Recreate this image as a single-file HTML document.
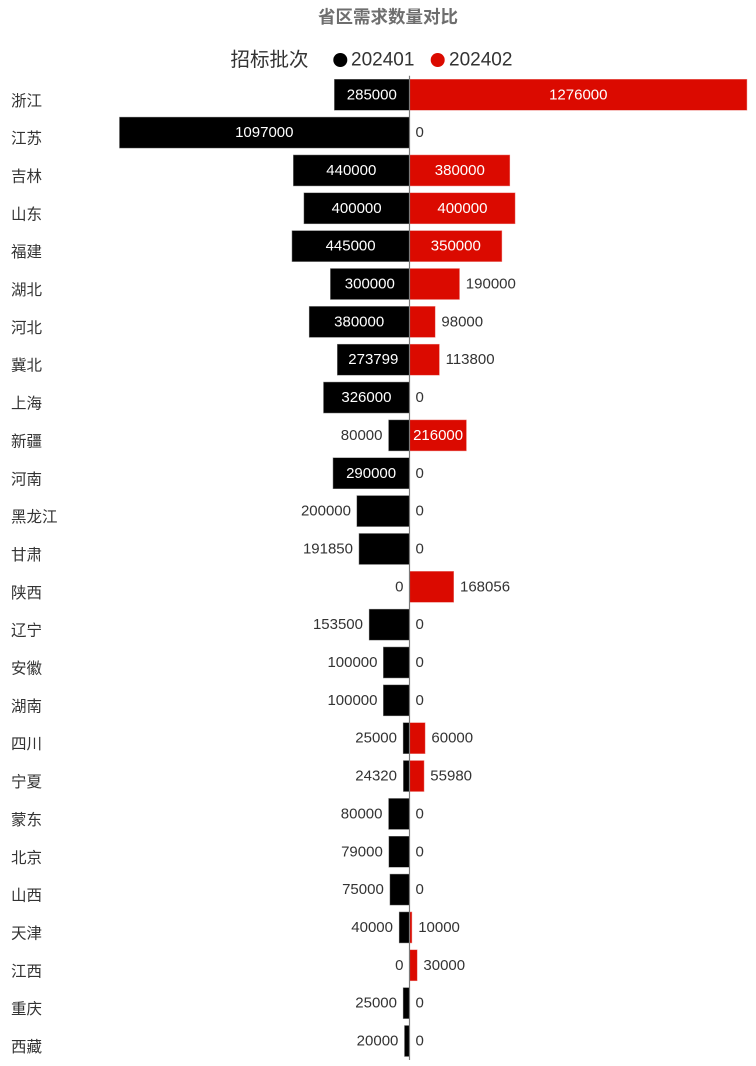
<!DOCTYPE html>
<html>
<head>
<meta charset="utf-8">
<style>
html,body{margin:0;padding:0;background:#fff;}
svg{display:block;}
text{font-family:"Liberation Sans","Noto Sans CJK SC",sans-serif;}
</style>
</head>
<body>
<svg width="756" height="1066" viewBox="0 0 756 1066" xmlns="http://www.w3.org/2000/svg">
<rect width="756" height="1066" fill="#fff"/>
<text x="388" y="17" font-size="17.5" font-weight="bold" fill="#6e6e6e" text-anchor="middle" dominant-baseline="central">省区需求数量对比</text>
<text x="230.5" y="60" font-size="19.5" fill="#333" dominant-baseline="central">招标批次</text>
<circle cx="340.3" cy="60" r="7" fill="#000"/>
<text x="351" y="60" font-size="19" fill="#333" dominant-baseline="central">202401</text>
<circle cx="437.7" cy="60" r="7" fill="#db0a00"/>
<text x="449" y="60" font-size="19" fill="#333" dominant-baseline="central">202402</text>

<g font-size="15.5" fill="#333" dominant-baseline="central">
<text x="11" y="101.25">浙江</text>
<text x="11" y="139.1">江苏</text>
<text x="11" y="176.95">吉林</text>
<text x="11" y="214.8">山东</text>
<text x="11" y="252.65">福建</text>
<text x="11" y="290.5">湖北</text>
<text x="11" y="328.35">河北</text>
<text x="11" y="366.2">冀北</text>
<text x="11" y="404.05">上海</text>
<text x="11" y="441.9">新疆</text>
<text x="11" y="479.75">河南</text>
<text x="11" y="517.6">黑龙江</text>
<text x="11" y="555.45">甘肃</text>
<text x="11" y="593.3">陕西</text>
<text x="11" y="631.15">辽宁</text>
<text x="11" y="669">安徽</text>
<text x="11" y="706.85">湖南</text>
<text x="11" y="744.7">四川</text>
<text x="11" y="782.55">宁夏</text>
<text x="11" y="820.4">蒙东</text>
<text x="11" y="858.25">北京</text>
<text x="11" y="896.1">山西</text>
<text x="11" y="933.95">天津</text>
<text x="11" y="971.8">江西</text>
<text x="11" y="1009.65">重庆</text>
<text x="11" y="1047.5">西藏</text>
</g>

<g fill="#000" stroke="#fff" stroke-opacity="0.5" stroke-width="1">
<rect x="334.07" y="79" width="75.43" height="31.5"/>
<rect x="119.18" y="116.85" width="290.32" height="31.5"/>
<rect x="293.05" y="154.7" width="116.45" height="31.5"/>
<rect x="303.64" y="192.55" width="105.86" height="31.5"/>
<rect x="291.73" y="230.4" width="117.77" height="31.5"/>
<rect x="330.1" y="268.25" width="79.4" height="31.5"/>
<rect x="308.93" y="306.1" width="100.57" height="31.5"/>
<rect x="337.04" y="343.95" width="72.46" height="31.5"/>
<rect x="323.22" y="381.8" width="86.28" height="31.5"/>
<rect x="388.33" y="419.65" width="21.17" height="31.5"/>
<rect x="332.75" y="457.5" width="76.75" height="31.5"/>
<rect x="356.57" y="495.35" width="52.93" height="31.5"/>
<rect x="358.73" y="533.2" width="50.77" height="31.5"/>
<rect x="368.88" y="608.9" width="40.62" height="31.5"/>
<rect x="383.04" y="646.75" width="26.47" height="31.5"/>
<rect x="383.04" y="684.6" width="26.47" height="31.5"/>
<rect x="402.88" y="722.45" width="6.62" height="31.5"/>
<rect x="403.06" y="760.3" width="6.44" height="31.5"/>
<rect x="388.33" y="798.15" width="21.17" height="31.5"/>
<rect x="388.59" y="836" width="20.91" height="31.5"/>
<rect x="389.65" y="873.85" width="19.85" height="31.5"/>
<rect x="398.91" y="911.7" width="10.59" height="31.5"/>
<rect x="402.88" y="987.4" width="6.62" height="31.5"/>
<rect x="404.21" y="1025.25" width="5.29" height="31.5"/>
</g>

<g fill="#db0a00" stroke="#fff" stroke-opacity="0.5" stroke-width="1">
<rect x="409.5" y="79" width="337.69" height="31.5"/>
<rect x="409.5" y="154.7" width="100.57" height="31.5"/>
<rect x="409.5" y="192.55" width="105.86" height="31.5"/>
<rect x="409.5" y="230.4" width="92.63" height="31.5"/>
<rect x="409.5" y="268.25" width="50.28" height="31.5"/>
<rect x="409.5" y="306.1" width="25.94" height="31.5"/>
<rect x="409.5" y="343.95" width="30.12" height="31.5"/>
<rect x="409.5" y="419.65" width="57.16" height="31.5"/>
<rect x="409.5" y="571.05" width="44.48" height="31.5"/>
<rect x="409.5" y="722.45" width="15.88" height="31.5"/>
<rect x="409.5" y="760.3" width="14.82" height="31.5"/>
<rect x="409.5" y="911.7" width="2.65" height="31.5"/>
<rect x="409.5" y="949.55" width="7.94" height="31.5"/>
</g>

<line x1="409.5" y1="75.8" x2="409.5" y2="1060" stroke="#7a7a7a" stroke-width="1.2"/>

<!-- inside labels -->
<g font-size="15" fill="#fff" text-anchor="middle" dominant-baseline="central">
<text x="371.8" y="94.75">285000</text>
<text x="578.3" y="94.75">1276000</text>
<text x="264.3" y="132.6">1097000</text>
<text x="351.3" y="170.45">440000</text>
<text x="459.8" y="170.45">380000</text>
<text x="356.6" y="208.3">400000</text>
<text x="462.4" y="208.3">400000</text>
<text x="350.6" y="246.15">445000</text>
<text x="455.8" y="246.15">350000</text>
<text x="369.8" y="284">300000</text>
<text x="359.2" y="321.85">380000</text>
<text x="373.3" y="359.7">273799</text>
<text x="366.4" y="397.55">326000</text>
<text x="438.1" y="435.4">216000</text>
<text x="371.1" y="473.25">290000</text>
</g>

<!-- outside labels left -->
<g font-size="15" fill="#333" text-anchor="end" dominant-baseline="central">
<text x="382.5" y="435.4">80000</text>
<text x="351" y="511.1">200000</text>
<text x="353" y="548.95">191850</text>
<text x="403.5" y="586.8">0</text>
<text x="363" y="624.65">153500</text>
<text x="377.5" y="662.5">100000</text>
<text x="377.5" y="700.35">100000</text>
<text x="397" y="738.2">25000</text>
<text x="397" y="776.05">24320</text>
<text x="382.5" y="813.9">80000</text>
<text x="382.8" y="851.75">79000</text>
<text x="383.8" y="889.6">75000</text>
<text x="393" y="927.45">40000</text>
<text x="403.5" y="965.3">0</text>
<text x="397" y="1003.15">25000</text>
<text x="398.4" y="1041">20000</text>
</g>

<!-- outside labels right -->
<g font-size="15" fill="#333" text-anchor="start" dominant-baseline="central">
<text x="415.5" y="132.6">0</text>
<text x="465.8" y="284">190000</text>
<text x="441.4" y="321.85">98000</text>
<text x="445.6" y="359.7">113800</text>
<text x="415.5" y="397.55">0</text>
<text x="415.5" y="473.25">0</text>
<text x="415.5" y="511.1">0</text>
<text x="415.5" y="548.95">0</text>
<text x="460" y="586.8">168056</text>
<text x="415.5" y="624.65">0</text>
<text x="415.5" y="662.5">0</text>
<text x="415.5" y="700.35">0</text>
<text x="431.4" y="738.2">60000</text>
<text x="430.3" y="776.05">55980</text>
<text x="415.5" y="813.9">0</text>
<text x="415.5" y="851.75">0</text>
<text x="415.5" y="889.6">0</text>
<text x="418.2" y="927.45">10000</text>
<text x="423.4" y="965.3">30000</text>
<text x="415.5" y="1003.15">0</text>
<text x="415.5" y="1041">0</text>
</g>
</svg>
</body>
</html>
